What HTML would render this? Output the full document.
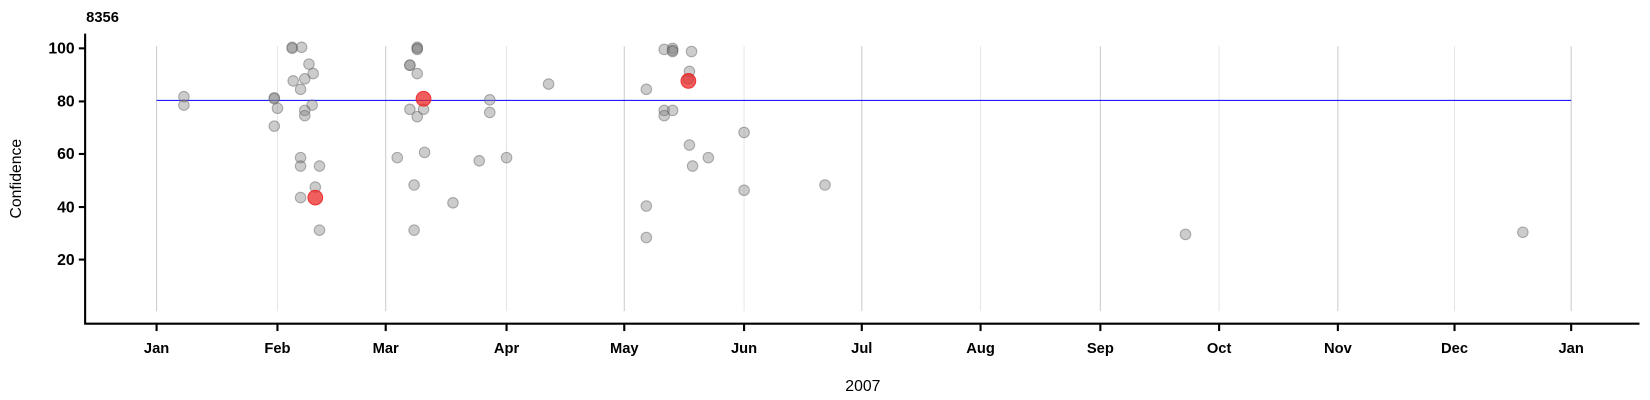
<!DOCTYPE html>
<html><head><meta charset="utf-8"><style>
html,body{margin:0;padding:0;background:#fff;}
svg{display:block;font-family:"Liberation Sans",Arial,sans-serif;}
</style></head><body>
<svg width="1650" height="400" viewBox="0 0 1570 380.6" preserveAspectRatio="none">
<g stroke-width="1">
<line x1="149" y1="44" x2="149" y2="296" stroke="#ccc"/>
<line x1="264" y1="44" x2="264" y2="296" stroke="#e6e6e6"/>
<line x1="367" y1="44" x2="367" y2="296" stroke="#ccc"/>
<line x1="482" y1="44" x2="482" y2="296" stroke="#e6e6e6"/>
<line x1="594" y1="44" x2="594" y2="296" stroke="#ccc"/>
<line x1="708" y1="44" x2="708" y2="296" stroke="#e6e6e6"/>
<line x1="820" y1="44" x2="820" y2="296" stroke="#ccc"/>
<line x1="933" y1="44" x2="933" y2="296" stroke="#e6e6e6"/>
<line x1="1047" y1="44" x2="1047" y2="296" stroke="#ccc"/>
<line x1="1160" y1="44" x2="1160" y2="296" stroke="#e6e6e6"/>
<line x1="1273" y1="44" x2="1273" y2="296" stroke="#ccc"/>
<line x1="1384" y1="44" x2="1384" y2="296" stroke="#e6e6e6"/>
<line x1="1495" y1="44" x2="1495" y2="296" stroke="#ccc"/>
</g>
<line x1="149" y1="95.5" x2="1495" y2="95.5" stroke="#0000ff" stroke-width="1"/>
<g fill="rgba(128,128,128,0.4)" stroke="rgba(100,100,100,0.5)" stroke-width="1">
<circle cx="175" cy="92" r="5"/><circle cx="175" cy="100" r="5"/>
<circle cx="261" cy="93" r="5"/><circle cx="261" cy="94" r="5"/><circle cx="278" cy="45" r="5"/><circle cx="278" cy="46" r="5"/><circle cx="287" cy="45" r="5"/><circle cx="294" cy="61" r="5"/><circle cx="298" cy="70" r="5"/><circle cx="290" cy="75" r="5"/><circle cx="279" cy="77" r="5"/><circle cx="286" cy="85" r="5"/><circle cx="264" cy="103" r="5"/><circle cx="297" cy="100" r="5"/><circle cx="290" cy="105" r="5"/><circle cx="290" cy="110" r="5"/><circle cx="261" cy="120" r="5"/><circle cx="286" cy="150" r="5"/><circle cx="286" cy="158" r="5"/><circle cx="304" cy="158" r="5"/><circle cx="300" cy="178" r="5"/><circle cx="286" cy="188" r="5"/><circle cx="304" cy="219" r="5"/>
<circle cx="390" cy="62" r="5"/><circle cx="390" cy="62" r="5"/><circle cx="397" cy="45" r="5"/><circle cx="397" cy="46" r="5"/><circle cx="397" cy="47" r="5"/><circle cx="397" cy="70" r="5"/><circle cx="390" cy="104" r="5"/><circle cx="397" cy="111" r="5"/><circle cx="403" cy="104" r="5"/><circle cx="404" cy="145" r="5"/><circle cx="378" cy="150" r="5"/><circle cx="394" cy="176" r="5"/><circle cx="394" cy="219" r="5"/><circle cx="431" cy="193" r="5"/><circle cx="456" cy="153" r="5"/><circle cx="466" cy="95" r="5"/><circle cx="466" cy="107" r="5"/><circle cx="482" cy="150" r="5"/><circle cx="522" cy="80" r="5"/>
<circle cx="615" cy="85" r="5"/><circle cx="632" cy="47" r="5"/><circle cx="640" cy="46" r="5"/><circle cx="640" cy="48" r="5"/><circle cx="640" cy="49" r="5"/><circle cx="658" cy="49" r="5"/><circle cx="656" cy="68" r="5"/><circle cx="655" cy="75" r="5"/><circle cx="632" cy="105" r="5"/><circle cx="640" cy="105" r="5"/><circle cx="632" cy="110" r="5"/><circle cx="708" cy="126" r="5"/><circle cx="656" cy="138" r="5"/><circle cx="674" cy="150" r="5"/><circle cx="659" cy="158" r="5"/><circle cx="708" cy="181" r="5"/><circle cx="785" cy="176" r="5"/><circle cx="615" cy="196" r="5"/><circle cx="615" cy="226" r="5"/>
<circle cx="1128" cy="223" r="5"/><circle cx="1449" cy="221" r="5"/>
</g>
<g fill="rgba(235,40,40,0.75)" stroke="rgba(235,40,40,0.9)" stroke-width="1">
<circle cx="300" cy="188" r="7"/><circle cx="403" cy="94" r="7"/><circle cx="655" cy="77" r="7"/>
</g>
<g stroke="#000" stroke-width="2" fill="none">
<path d="M81,32 V308 H1560"/>
</g>
<g stroke="#000" stroke-width="2">
<line x1="75" y1="46" x2="81" y2="46"/><line x1="75" y1="96.5" x2="81" y2="96.5"/><line x1="75" y1="146.5" x2="81" y2="146.5"/><line x1="75" y1="197" x2="81" y2="197"/><line x1="75" y1="247" x2="81" y2="247"/>
<line x1="149" y1="308" x2="149" y2="315"/><line x1="264" y1="308" x2="264" y2="315"/><line x1="367" y1="308" x2="367" y2="315"/><line x1="482" y1="308" x2="482" y2="315"/><line x1="594" y1="308" x2="594" y2="315"/><line x1="708" y1="308" x2="708" y2="315"/><line x1="820" y1="308" x2="820" y2="315"/><line x1="933" y1="308" x2="933" y2="315"/><line x1="1047" y1="308" x2="1047" y2="315"/><line x1="1160" y1="308" x2="1160" y2="315"/><line x1="1273" y1="308" x2="1273" y2="315"/><line x1="1384" y1="308" x2="1384" y2="315"/><line x1="1495" y1="308" x2="1495" y2="315"/>
</g>
<g font-size="15" font-weight="bold" text-anchor="end" fill="#000">
<text x="71" y="51">100</text><text x="71" y="101.5">80</text><text x="71" y="151.5">60</text><text x="71" y="202">40</text><text x="71" y="252">20</text>
</g>
<g font-size="14" font-weight="bold" text-anchor="middle" fill="#000">
<text x="149" y="336">Jan</text><text x="264" y="336">Feb</text><text x="367" y="336">Mar</text><text x="482" y="336">Apr</text><text x="594" y="336">May</text><text x="708" y="336">Jun</text><text x="820" y="336">Jul</text><text x="933" y="336">Aug</text><text x="1047" y="336">Sep</text><text x="1160" y="336">Oct</text><text x="1273" y="336">Nov</text><text x="1384" y="336">Dec</text><text x="1495" y="336">Jan</text>
</g>
<text x="821" y="372" font-size="15" text-anchor="middle">2007</text>
<text transform="translate(20,170) rotate(-90)" font-size="15" text-anchor="middle">Confidence</text>
<text x="82" y="21" font-size="14" font-weight="bold">8356</text>
</svg>
</body></html>
